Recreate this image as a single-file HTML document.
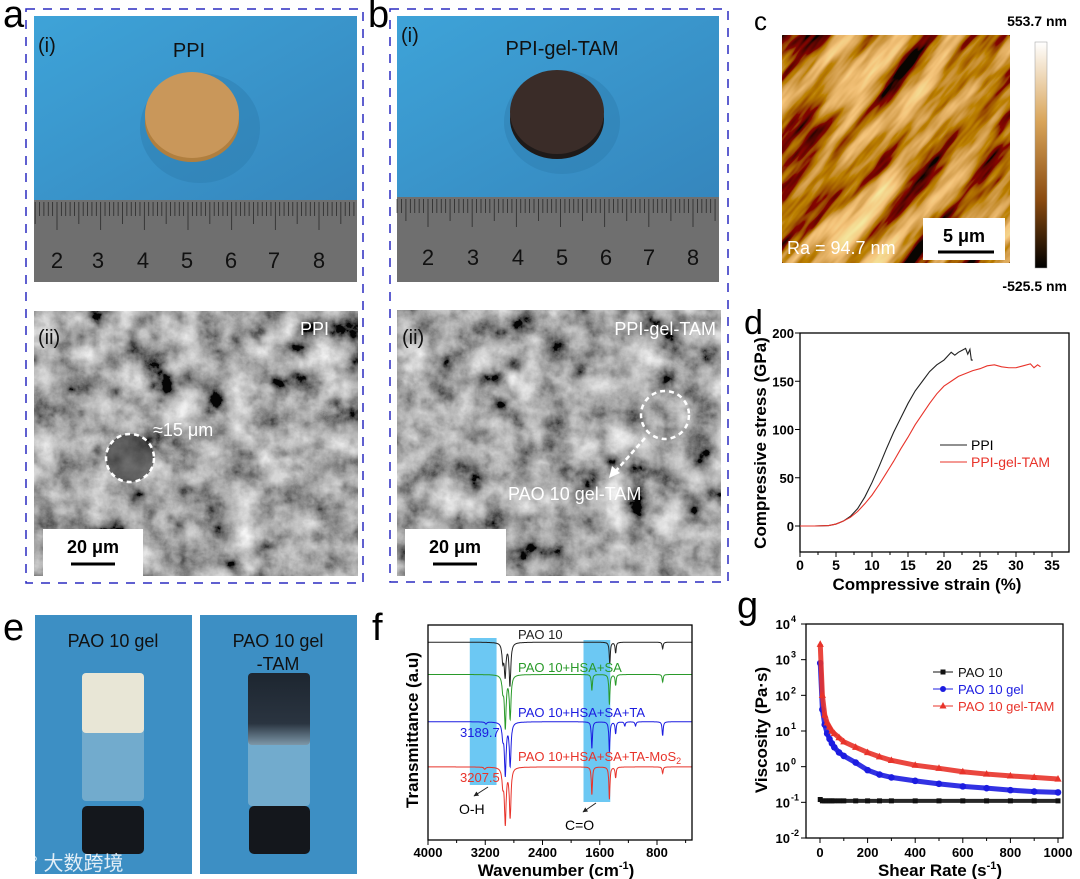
<!DOCTYPE html>
<html><head><meta charset="utf-8"><style>
html,body{margin:0;padding:0;background:#fff;}
svg{display:block;font-family:"Liberation Sans",Arial,sans-serif;}
</style></head><body>
<svg id="fig" width="1080" height="879" viewBox="0 0 1080 879" xmlns="http://www.w3.org/2000/svg">
<defs>
<filter id="sem" x="0" y="0" width="100%" height="100%"><feTurbulence type="fractalNoise" baseFrequency="0.035" numOctaves="5" seed="3"/><feColorMatrix type="matrix" values="0.33 0.33 0.33 0 0  0.33 0.33 0.33 0 0  0.33 0.33 0.33 0 0  0 0 0 0 1"/><feComponentTransfer><feFuncR type="linear" slope="2.4" intercept="-0.78"/><feFuncG type="linear" slope="2.4" intercept="-0.78"/><feFuncB type="linear" slope="2.4" intercept="-0.78"/></feComponentTransfer></filter>
<filter id="afm" x="0" y="0" width="100%" height="100%"><feTurbulence type="fractalNoise" baseFrequency="0.008 0.045" numOctaves="4" seed="7"/><feColorMatrix type="matrix" values="0 0 0 2.2 -0.55  0 0 0 1.8 -0.65  0 0 0 1.1 -0.55  0 0 0 0 1"/></filter>
<clipPath id="afmclip"><rect x="782" y="35" width="228" height="228"/></clipPath>
<linearGradient id="cbar" x1="0" y1="0" x2="0" y2="1"><stop offset="0" stop-color="#fff"/><stop offset="0.35" stop-color="#d9a55a"/><stop offset="0.7" stop-color="#8a4b10"/><stop offset="1" stop-color="#000"/></linearGradient>
<linearGradient id="blue" x1="0" y1="0" x2="1" y2="1"><stop offset="0" stop-color="#3ea3d8"/><stop offset="1" stop-color="#3586bd"/></linearGradient>
<linearGradient id="vialdark" x1="0" y1="0" x2="0" y2="1"><stop offset="0" stop-color="#1d2630"/><stop offset="0.7" stop-color="#2a3440"/><stop offset="1" stop-color="#7d97a8"/></linearGradient>
<marker id="arr" viewBox="0 0 10 10" refX="9" refY="5" markerWidth="5" markerHeight="5" orient="auto"><path d="M0,0 L10,5 L0,10 z" fill="#222"/></marker>
</defs>

<!-- panel labels -->
<text x="3" y="27" font-size="38">a</text>
<text x="368" y="27" font-size="38">b</text>
<text x="754" y="30" font-size="26">c</text>
<text x="744" y="334" font-size="34">d</text>
<text x="3" y="640" font-size="38">e</text>
<text x="372" y="640" font-size="38">f</text>
<text x="737" y="618" font-size="38">g</text>

<!-- panel a -->
<g>
<rect x="26" y="9" width="337" height="574" fill="none" stroke="#2b2bc0" stroke-width="1.5" stroke-dasharray="9,8"/>
<rect x="34" y="16" width="323" height="184" fill="url(#blue)"/>
<ellipse cx="200" cy="128" rx="60" ry="55" fill="#2d7eb0" opacity="0.5"/>
<ellipse cx="192" cy="122" rx="47" ry="40" fill="#b07f3f"/>
<ellipse cx="192" cy="115" rx="47" ry="43" fill="#c9975a"/>
<g id="rulerA"></g>
<text x="38" y="52" font-size="20" fill="#111">(i)</text>
<text x="189" y="57" font-size="20" fill="#111" text-anchor="middle">PPI</text>
<rect x="34" y="311" width="324" height="265" fill="#666"/>
<rect x="34" y="311" width="324" height="265" filter="url(#sem)" opacity="0.95"/>
<text x="38" y="344" font-size="20" fill="#111">(ii)</text>
<text x="300" y="335" font-size="18" fill="#fff">PPI</text>
<circle cx="130" cy="458" r="24" fill="#222" opacity="0.6"/>
<circle cx="130" cy="458" r="24" fill="none" stroke="#fff" stroke-width="2.5" stroke-dasharray="5,4"/>
<text x="153" y="436" font-size="18" fill="#fff">≈15 μm</text>
<rect x="43" y="529" width="100" height="47" fill="#fff"/>
<text x="93" y="553" font-size="18" font-weight="bold" text-anchor="middle">20 μm</text>
<line x1="71" y1="564" x2="115" y2="564" stroke="#000" stroke-width="3"/>
</g>

<!-- panel b -->
<g>
<rect x="390" y="9" width="338" height="573" fill="none" stroke="#2b2bc0" stroke-width="1.5" stroke-dasharray="9,8"/>
<rect x="397" y="16" width="322" height="181" fill="url(#blue)"/>
<ellipse cx="562" cy="122" rx="58" ry="52" fill="#2d7eb0" opacity="0.5"/>
<ellipse cx="557" cy="119" rx="47" ry="40" fill="#1e1a19"/>
<ellipse cx="557" cy="112" rx="47" ry="42" fill="#3a2c28"/>
<g id="rulerB"></g>
<text x="401" y="42" font-size="20" fill="#111">(i)</text>
<text x="562" y="55" font-size="20" fill="#111" text-anchor="middle">PPI-gel-TAM</text>
<rect x="397" y="310" width="324" height="266" fill="#5e5e5e"/>
<rect x="397" y="310" width="324" height="266" filter="url(#sem)" opacity="0.95"/>
<text x="402" y="344" font-size="20" fill="#111">(ii)</text>
<text x="716" y="335" font-size="18" fill="#fff" text-anchor="end">PPI-gel-TAM</text>
<circle cx="665" cy="415" r="24" fill="none" stroke="#fff" stroke-width="2.5" stroke-dasharray="5,4"/>
<line x1="645" y1="438" x2="615" y2="472" stroke="#fff" stroke-width="2.5" stroke-dasharray="5,3"/>
<path d="M609,478 L612,466 L620,473 z" fill="#fff"/>
<text x="508" y="500" font-size="18" fill="#fff">PAO 10 gel-TAM</text>
<rect x="405" y="529" width="101" height="47" fill="#fff"/>
<text x="455" y="553" font-size="18" font-weight="bold" text-anchor="middle">20 μm</text>
<line x1="433" y1="564" x2="477" y2="564" stroke="#000" stroke-width="3"/>
</g>

<!-- panel c -->
<g>
<rect x="782" y="35" width="228" height="228" fill="#7a4310"/>
<g clip-path="url(#afmclip)"><rect x="736" y="-11" width="320" height="320" filter="url(#afm)" opacity="0.92" transform="rotate(-50 896 149)"/></g>
<text x="787" y="254" font-size="18" fill="#fff">Ra = 94.7 nm</text>
<rect x="923" y="218" width="82" height="42" fill="#fff"/>
<text x="964" y="242" font-size="18" font-weight="bold" text-anchor="middle">5 μm</text>
<line x1="938" y1="252" x2="994" y2="252" stroke="#000" stroke-width="3"/>
<rect x="1035" y="42" width="12" height="226" fill="url(#cbar)" stroke="#999" stroke-width="0.5"/>
<text x="1067" y="26" font-size="14" font-weight="bold" text-anchor="end">553.7 nm</text>
<text x="1067" y="291" font-size="14" font-weight="bold" text-anchor="end">-525.5 nm</text>
</g>

<!-- panel e -->
<g>
<rect x="35" y="615" width="157" height="259" fill="#3d8fc4"/>
<text x="113" y="647" font-size="18" text-anchor="middle" fill="#111">PAO 10 gel</text>
<rect x="82" y="675" width="62" height="126" rx="4" fill="#9fc3d6" opacity="0.55"/>
<rect x="82" y="673" width="62" height="60" rx="4" fill="#e8e6d6"/>
<rect x="82" y="806" width="62" height="48" rx="5" fill="#14171c"/>
<text x="10" y="870" font-size="20" fill="#fff" opacity="0.85" font-family="'Liberation Sans','Noto Sans CJK SC',sans-serif">ⓒ° 大数跨境</text>
<rect x="200" y="615" width="157" height="259" fill="#3d8fc4"/>
<text x="278" y="647" font-size="18" text-anchor="middle" fill="#111">PAO 10 gel</text>
<text x="278" y="670" font-size="18" text-anchor="middle" fill="#111">-TAM</text>
<rect x="248" y="680" width="62" height="126" rx="4" fill="#9fc3d6" opacity="0.55"/>
<rect x="248" y="673" width="62" height="72" rx="4" fill="url(#vialdark)"/>
<rect x="249" y="806" width="61" height="48" rx="5" fill="#14171c"/>
</g>

<g id="chartD"></g>
<g id="chartF"></g>
<g id="chartG"></g>
</svg>
<script>
// ---------- data: panel d ----------
const dStrainPPI = [0,2,4,5,6,7,8,9,10,11,12,13,14,15,16,17,18,19,20,21,21.5,22,22.5,23,23.3,23.6,23.8,24];
const dStressPPI = [0,0,0.5,2,5,10,18,30,45,62,80,97,112,127,140,150,160,167,172,180,177,180,182,184,178,183,172,172];
const dStrainTAM = [0,2,4,5,6,7,8,9,10,11,12,13,14,15,16,17,18,19,20,21,22,23,24,25,26,27,28,29,30,31,32,32.5,33,33.4];
const dStressTAM = [0,0,0.5,2,5,9,15,23,32,43,55,67,80,92,105,116,127,137,145,150,155,158,161,163,166,167,165,164,164,166,168,164,167,165];
const dXTicks = [0,5,10,15,20,25,30,35];
const dYTicks = [0,50,100,150,200];
// ---------- data: panel f ----------
const fSeriesNames = ["PAO 10","PAO 10+HSA+SA","PAO 10+HSA+SA+TA","PAO 10+HSA+SA+TA-MoS2"];
const fBaselines = [92,77,55,34];
const fPeakPosPAO = [2955,2922,2855,1460,1378,721];
const fPeakDepPAO = [8,15,20,10,5,3];
const fPeakPosHSA = [2955,2920,2852,1710,1465,1378,721];
const fPeakDepHSA = [6,24,20,7.5,14,5,3.5];
const fPeakPosTA = [3190,2955,2920,2852,1710,1465,1378,1250,1100,721];
const fPeakDepTA = [1,6,24,20,12.5,14,5.5,2,2,6.5];
const fPeakPosMoS = [3207,2955,2920,2852,1710,1465,1378,721];
const fPeakDepMoS = [1,7,25.6,23,13,15,5,3];
const fXTicks = [4000,3200,2400,1600,800];
// ---------- data: panel g ----------
const gRate = [1,10,20,30,40,50,60,80,100,150,200,250,300,400,500,600,700,800,900,1000];
const gPAO = [0.12,0.11,0.11,0.11,0.11,0.11,0.11,0.11,0.11,0.11,0.11,0.11,0.11,0.11,0.11,0.11,0.11,0.11,0.11,0.11];
const gGel = [800,40,15,8.5,6,4.5,3.5,2.5,2,1.3,0.8,0.6,0.5,0.4,0.33,0.28,0.25,0.22,0.2,0.19];
const gTAM = [2700,100,28,17,13,10,8.5,6.5,5,3.5,2.5,1.9,1.5,1.1,0.9,0.72,0.62,0.55,0.5,0.45];
const gXTicks = [0,200,400,600,800,1000];
const gYExp = [-2,-1,0,1,2,3,4];

const NS="http://www.w3.org/2000/svg";
function mk(parent,tag,attrs,text){const e=document.createElementNS(NS,tag);for(const k in attrs)e.setAttribute(k,attrs[k]);if(text!==undefined)e.textContent=text;parent.appendChild(e);return e;}

function ruler(g,x0,x1,top,bottom,numX){
  const r=mk(g,'rect',{x:x0,y:top,width:x1-x0,height:bottom-top,fill:'#6f6f6f'});
  
  
  const mm=(numX[6]-numX[0])/60;
  for(let i=-20;i<90;i++){const x=numX[0]+i*mm;if(x<x0||x>x1)continue;
    const len=i%10===0?30:(i%5===0?24:16);
    mk(g,'line',{x1:x,y1:top+2,x2:x,y2:top+len,stroke:'#2a2a2a','stroke-width':0.8});}
  numX.forEach((x,i)=>{const t=mk(g,'text',{x:x,y:top+68,'font-size':22,'text-anchor':'middle',fill:'#111'},String(i+2));
    
    });
}
ruler(document.getElementById('rulerA'),34,357,200,282,[57,98,143,187,231,274,319]);
ruler(document.getElementById('rulerB'),397,719,197,282,[428,473,518,562,606,649,693]);

// ---------- chart d ----------
(function(){
  const g=document.getElementById('chartD');
  const L=800,R=1069,T=333,B=552;
  const xs=v=>L+(v/35)*252, ys=v=>526-(v/200)*193;
  const frame=mk(g,'rect',{x:L,y:T,width:R-L,height:B-T,fill:'none',stroke:'#000','stroke-width':1.3});
  
  
  dXTicks.forEach(v=>{mk(g,'line',{x1:xs(v),y1:B,x2:xs(v),y2:B+5,stroke:'#000'});
    const t=mk(g,'text',{x:xs(v),y:570,'font-size':14,'font-weight':'bold','text-anchor':'middle'},String(v));
    
    
    if(v<35)mk(g,'line',{x1:xs(v+2.5),y1:B,x2:xs(v+2.5),y2:B+3,stroke:'#000'});});
  dYTicks.forEach(v=>{mk(g,'line',{x1:L,y1:ys(v),x2:L-5,y2:ys(v),stroke:'#000'});
    const t=mk(g,'text',{x:794,y:ys(v)+5,'font-size':13,'font-weight':'bold','text-anchor':'end'},String(v));
    
    });
  const xt=mk(g,'text',{x:927,y:590,'font-size':17,'font-weight':'bold','text-anchor':'middle'},'Compressive strain (%)');
  
  
  const yt=mk(g,'text',{x:0,y:0,'font-size':17,'font-weight':'bold','text-anchor':'middle',transform:'translate(766,443) rotate(-90)'},'Compressive stress (GPa)');
  
  
  const p1=mk(g,'polyline',{points:dStrainPPI.map((x,i)=>xs(x)+','+ys(dStressPPI[i])).join(' '),fill:'none',stroke:'#222','stroke-width':1.1});
  
  
  const p2=mk(g,'polyline',{points:dStrainTAM.map((x,i)=>xs(x)+','+ys(dStressTAM[i])).join(' '),fill:'none',stroke:'#e8332a','stroke-width':1.1});
  
  
  mk(g,'line',{x1:940,y1:445,x2:967,y2:445,stroke:'#222','stroke-width':1.1});
  const l1=mk(g,'text',{x:971,y:450,'font-size':14},'PPI');
  
  
  mk(g,'line',{x1:940,y1:462,x2:967,y2:462,stroke:'#e8332a','stroke-width':1.1});
  const l2=mk(g,'text',{x:971,y:467,'font-size':14,fill:'#e8332a'},'PPI-gel-TAM');
  
  
})();

// ---------- chart f ----------
(function(){
  const g=document.getElementById('chartF');
  const L=428,R=692,T=625,B=840;
  const xs=w=>L+(4000-w)*(229/3200), ys=v=>B-v*2.15;
  const wmin=4000-(R-L)/(229/3200);
  [[3416,3042,638,785],[1827,1453,640,802]].forEach(b=>{
    const r=mk(g,'rect',{x:xs(b[0]),y:b[2],width:xs(b[1])-xs(b[0]),height:b[3]-b[2],fill:'#5cc2f2',opacity:0.9});
    
    });
  const colors=['#222','#2a9a2a','#1c1ce0','#e8332a'];
  const pos=[fPeakPosPAO,fPeakPosHSA,fPeakPosTA,fPeakPosMoS];
  const dep=[fPeakDepPAO,fPeakDepHSA,fPeakDepTA,fPeakDepMoS];
  const names=['spectrum-pao10','spectrum-hsa-sa','spectrum-hsa-sa-ta','spectrum-hsa-sa-ta-mos2'];
  for(let s=0;s<4;s++){
    const pts=[];
    for(let w=4000;w>=wmin;w-=3){
      let v=fBaselines[s];
      pos[s].forEach((p,i)=>{const hw=(p>2500?14:9);v-=dep[s][i]/(1+((w-p)/hw)**2);});
      pts.push(xs(w).toFixed(1)+','+ys(v).toFixed(1));
    }
    const pl=mk(g,'polyline',{points:pts.join(' '),fill:'none',stroke:colors[s],'stroke-width':1});
    
    
  }
  const frame=mk(g,'rect',{x:L,y:T,width:R-L,height:B-T,fill:'none',stroke:'#000','stroke-width':1.3});
  
  
  fXTicks.forEach(v=>{mk(g,'line',{x1:xs(v),y1:B,x2:xs(v),y2:B+5,stroke:'#000'});
    mk(g,'line',{x1:xs(v-400),y1:B,x2:xs(v-400),y2:B+3,stroke:'#000'});
    const t=mk(g,'text',{x:xs(v),y:857,'font-size':13,'font-weight':'bold','text-anchor':'middle'},String(v));
    
    });
  const lab=[[518,639,'PAO 10'],[518,672,'PAO 10+HSA+SA'],[518,717,'PAO 10+HSA+SA+TA']];
  lab.forEach((l,i)=>{const t=mk(g,'text',{x:l[0],y:l[1],'font-size':13,fill:colors[i]},l[2]);
    
    });
  const t4=mk(g,'text',{x:518,y:761,'font-size':13,fill:colors[3]},'PAO 10+HSA+SA+TA-MoS');
  
  
  mk(t4,'tspan',{'font-size':9,dy:3},'2');
  const a1=mk(g,'text',{x:460,y:737,'font-size':13,fill:colors[2]},'3189.7');
  
  
  const a2=mk(g,'text',{x:460,y:782,'font-size':13,fill:colors[3]},'3207.5');
  
  
  mk(g,'line',{x1:488,y1:787,x2:474,y2:796,stroke:'#222','marker-end':'url(#arr)'});
  const oh=mk(g,'text',{x:459,y:814,'font-size':14},'O-H');
  
  
  mk(g,'line',{x1:596,y1:803,x2:583,y2:812,stroke:'#222','marker-end':'url(#arr)'});
  const co=mk(g,'text',{x:565,y:830,'font-size':14},'C=O');
  
  
  const xt=mk(g,'text',{x:556,y:876,'font-size':17,'font-weight':'bold','text-anchor':'middle'},'Wavenumber (cm');
  
  
  mk(xt,'tspan',{'font-size':11,dy:-7},'-1');
  mk(xt,'tspan',{dy:7},')');
  const yt=mk(g,'text',{x:0,y:0,'font-size':17,'font-weight':'bold','text-anchor':'middle',transform:'translate(418,730) rotate(-90)'},'Transmittance (a.u)');
  
  
})();

// ---------- chart g ----------
(function(){
  const g=document.getElementById('chartG');
  const L=806,R=1063,T=624,B=838;
  const xs=v=>820+(v/1000)*238, ys=v=>B-(Math.log10(v)+2)*(B-T)/6;
  const frame=mk(g,'rect',{x:L,y:T,width:R-L,height:B-T,fill:'none',stroke:'#000','stroke-width':1.3});
  
  
  gXTicks.forEach(v=>{mk(g,'line',{x1:xs(v),y1:B,x2:xs(v),y2:B+5,stroke:'#000'});
    if(v<1000)mk(g,'line',{x1:xs(v+100),y1:B,x2:xs(v+100),y2:B+3,stroke:'#000'});
    const t=mk(g,'text',{x:xs(v),y:857,'font-size':13,'font-weight':'bold','text-anchor':'middle'},String(v));
    
    });
  gYExp.forEach(e=>{const y=ys(Math.pow(10,e));mk(g,'line',{x1:L,y1:y,x2:L-5,y2:y,stroke:'#000'});
    const t=mk(g,'text',{x:790,y:y+5,'font-size':13,'font-weight':'bold','text-anchor':'end'},'10');
    
    
    mk(g,'text',{x:791,y:y-2,'font-size':9,'font-weight':'bold'},String(e));});
  const series=[[gPAO,'#111','sq','series-pao10'],[gGel,'#1c1ce0','ci','series-pao10-gel'],[gTAM,'#e8332a','tr','series-pao10-gel-tam']];
  series.forEach(s=>{
    const ln=mk(g,'polyline',{points:gRate.map((x,i)=>xs(x)+','+ys(s[0][i])).join(' '),fill:'none',stroke:s[1],'stroke-width':s[2]==='sq'?4:5,opacity:0.9});
    
    
    gRate.forEach((x,i)=>{const cx=xs(x),cy=ys(s[0][i]);let m;
      if(s[2]==='sq')m=mk(g,'rect',{x:cx-2.5,y:cy-2.5,width:5,height:5,fill:s[1]});
      else if(s[2]==='ci')m=mk(g,'circle',{cx:cx,cy:cy,r:3.3,fill:s[1]});
      else m=mk(g,'path',{d:`M${cx},${cy-4} L${cx+3.6},${cy+2.6} L${cx-3.6},${cy+2.6} z`,fill:s[1]});
      
      });
  });
  const leg=[[672,'#111','PAO 10','sq'],[689,'#1c1ce0','PAO 10 gel','ci'],[706,'#e8332a','PAO 10 gel-TAM','tr']];
  leg.forEach(l=>{mk(g,'line',{x1:933,y1:l[0],x2:953,y2:l[0],stroke:l[1],'stroke-width':1});
    if(l[3]==='sq')mk(g,'rect',{x:940.5,y:l[0]-2.5,width:5,height:5,fill:l[1]});
    else if(l[3]==='ci')mk(g,'circle',{cx:943,cy:l[0],r:3,fill:l[1]});
    else mk(g,'path',{d:`M943,${l[0]-4} L946.5,${l[0]+2.5} L939.5,${l[0]+2.5} z`,fill:l[1]});
    const t=mk(g,'text',{x:958,y:l[0]+5,'font-size':13,fill:l[1]},l[2]);
    
    });
  const xt=mk(g,'text',{x:940,y:876,'font-size':17,'font-weight':'bold','text-anchor':'middle'},'Shear Rate (s');
  
  
  mk(xt,'tspan',{'font-size':11,dy:-7},'-1');
  mk(xt,'tspan',{dy:7},')');
  const yt=mk(g,'text',{x:0,y:0,'font-size':17,'font-weight':'bold','text-anchor':'middle',transform:'translate(767,730) rotate(-90)'},'Viscosity (Pa·s)');
  
  
})();
</script>
</body></html>
